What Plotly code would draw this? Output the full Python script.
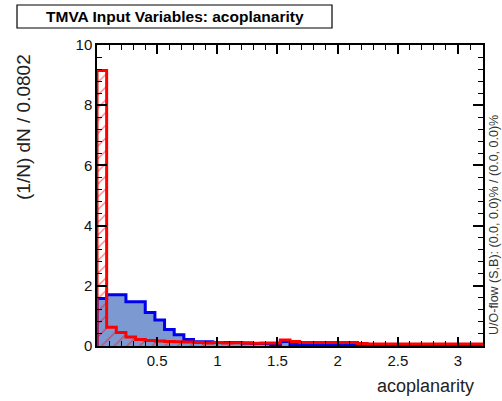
import plotly.graph_objects as go

# ---- data ----
x_min = 0.0
bin_width = 0.0802
signal = [1.58, 1.70, 1.70, 1.47, 1.47, 1.11, 0.86, 0.55, 0.37, 0.22,
          0.14, 0.14, 0.12, 0.12, 0.12, 0.10, 0.08, 0.08, 0.05, 0.15,
          0.05, 0.04, 0.04, 0.04, 0.03, 0.03, 0.03, 0.03, 0.02, 0.02,
          0.02, 0.02, 0.02, 0.02, 0.02, 0.02, 0.02, 0.02, 0.02, 0.02]
background = [9.15, 0.62, 0.45, 0.30, 0.22, 0.18, 0.17, 0.15, 0.14, 0.13,
              0.12, 0.10, 0.12, 0.10, 0.11, 0.10, 0.09, 0.10, 0.10, 0.20,
              0.15, 0.12, 0.12, 0.12, 0.12, 0.12, 0.12, 0.08, 0.07, 0.07,
              0.07, 0.07, 0.07, 0.07, 0.07, 0.07, 0.07, 0.07, 0.07, 0.07]
title_text = "TMVA Input Variables: acoplanarity"
x_title = "acoplanarity"
y_title = "(1/N) dN / 0.0802"
flow_text = "U/O-flow (S,B): (0.0, 0.0)% / (0.0, 0.0)%"

n = len(signal)
edges = [x_min + i * bin_width for i in range(n + 1)]
centers = [x_min + (i + 0.5) * bin_width for i in range(n)]

def step(vals):
    xs = [edges[0]] + edges[:n] + [edges[n], edges[n]]
    ys = [0] + list(vals) + [vals[-1], 0]
    return xs, ys

FONT = "Liberation Sans, Arial, Helvetica, sans-serif"
fig = go.Figure()

fig.add_trace(go.Bar(x=centers, y=signal, width=bin_width,
                     marker=dict(color="#7d99d1", line_width=0),
                     hoverinfo="skip"))
sx, sy = step(signal)
fig.add_trace(go.Scatter(x=sx, y=sy, mode="lines", line_shape="hv",
                         line=dict(color="#0000ee", width=3), hoverinfo="skip"))
fig.add_trace(go.Bar(x=centers, y=background, width=bin_width,
                     marker=dict(color="rgba(0,0,0,0)", line_width=0,
                                 pattern=dict(shape="/", fgcolor="#ff0000",
                                              bgcolor="rgba(0,0,0,0)",
                                              size=9, solidity=0.15)),
                     hoverinfo="skip"))
bx, by = step(background)
fig.add_trace(go.Scatter(x=bx, y=by, mode="lines", line_shape="hv",
                         line=dict(color="#ff0000", width=3), hoverinfo="skip"))

L, R, T, B = 97, 483, 45, 346
W, H = 502, 401
pw, ph = R - L, B - T

def px(xp):
    return (xp - L) / pw

def py(yp):
    return (B - yp) / ph

axis_common = dict(showgrid=False, zeroline=False, showline=True, linecolor="black",
                   linewidth=1.5, mirror="ticks", ticks="inside", tickcolor="black",
                   tickwidth=1.5, tickfont=dict(family=FONT, size=15, color="#111"))

fig.update_layout(
    width=W, height=H,
    margin=dict(l=L, r=W - R, t=T, b=H - B, pad=0),
    paper_bgcolor="white", plot_bgcolor="white",
    showlegend=False, barmode="overlay", bargap=0,
    xaxis=dict(range=[edges[0], edges[-1]], tickmode="array",
               tickvals=[0.5, 1, 1.5, 2, 2.5, 3],
               ticktext=["0.5", "1", "1.5", "2", "2.5", "3"],
               ticklen=9,
               minor=dict(ticks="inside", dtick=0.1, tick0=0, ticklen=5,
                          tickcolor="black", tickwidth=1.2),
               **axis_common),
    yaxis=dict(range=[0, 10], tickmode="array", tickvals=[0, 2, 4, 6, 8, 10],
               ticklen=10,
               minor=dict(ticks="inside", dtick=0.4, tick0=0, ticklen=5,
                          tickcolor="black", tickwidth=1.2),
               **axis_common),
    shapes=[dict(type="rect", xref="paper", yref="paper",
                 x0=px(17), x1=px(332), y0=py(28), y1=py(5),
                 line=dict(color="black", width=1.2), fillcolor="white")],
    annotations=[
        dict(text="<b>" + title_text + "</b>", xref="paper", yref="paper",
             x=px(175), y=py(16.5), showarrow=False, xanchor="center", yanchor="middle",
             font=dict(family=FONT, size=15.5, color="black")),
        dict(text=y_title, xref="paper", yref="paper", x=px(23), y=py(127),
             textangle=-90, showarrow=False, xanchor="center", yanchor="middle",
             font=dict(family=FONT, size=19, color="#222")),
        dict(text=x_title, xref="paper", yref="paper", x=px(476), y=py(386),
             showarrow=False, xanchor="right", yanchor="middle",
             font=dict(family=FONT, size=18, color="#222")),
        dict(text=flow_text, xref="paper", yref="paper", x=px(494), y=py(225),
             textangle=-90, showarrow=False, xanchor="center", yanchor="middle",
             font=dict(family=FONT, size=12.5, color="#333")),
    ],
)

fig.write_html("out.html", config={"displayModeBar": False},
               post_script="document.body.style.margin='0px';document.body.style.overflow='hidden';")
